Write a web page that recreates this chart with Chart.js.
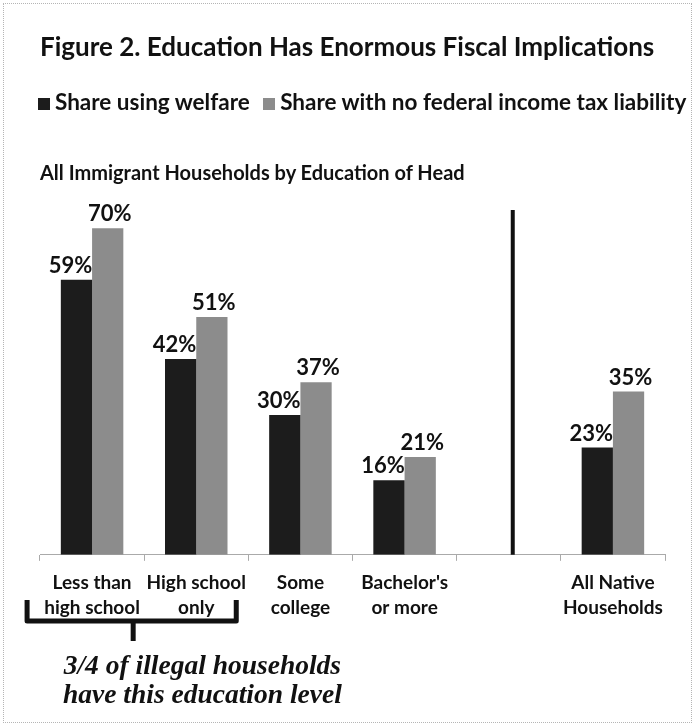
<!DOCTYPE html>
<html>
<head>
<meta charset="utf-8">
<script src="https://cdn.jsdelivr.net/npm/chart.js@4.4.1/dist/chart.umd.min.js"></script>
<style>
  html, body { margin: 0; padding: 0; background: #fff; }
  #wrap { position: relative; width: 697px; height: 727px; overflow: hidden; }
  #frame { position: absolute; left: 3px; top: 3px; width: 689px; height: 720px; border: 1px dotted #b5b5b5; box-sizing: border-box; }
  #chart { position: absolute; left: 0; top: 0; }
  .txt { position: absolute; font-family: Lato, "Open Sans", sans-serif; font-weight: bold; color: #111; white-space: nowrap; }
  #title { left: 40px; top: 30px; font-size: 26px; }
  #legend { left: 38px; top: 88px; font-size: 22.5px; }
  #legend .sw { display: inline-block; width: 12px; height: 12px; margin-right: 5px; vertical-align: 0px; }
  #sub { left: 40px; top: 160px; font-size: 20px; }
  #note { left: 63px; top: 650px; font-family: "Liberation Serif", serif; font-style: italic; font-size: 27.5px; line-height: 29px; text-align: center; }
</style>
</head>
<body>
<div id="wrap">
  <div id="frame"></div>
  <canvas id="chart" width="697" height="727"></canvas>
  <div class="txt" id="title">Figure 2. Education Has Enormous Fiscal Implications</div>
  <div class="txt" id="legend">
    <span class="sw" style="background:#1c1c1c"></span>Share using welfare
    <span class="sw" style="background:#8c8c8c;margin-left:8px"></span>Share with no federal income tax liability
  </div>
  <div class="txt" id="sub">All Immigrant Households by Education of Head</div>
  <div class="txt" id="note">3/4 of illegal households<br>have this education level</div>
</div>
<script>
// categories and values (percent of households)
const categories = [
    ["Less than", "high school"],
    ["High school", "only"],
    ["Some", "college"],
    ["Bachelor's", "or more"],
    "",
    ["All Native", "Households"]
];
const welfareShare = [59, 42, 30, 16, null, 23];
const noTaxShare = [70, 51, 37, 21, null, 35];

const colors = ['#1c1c1c', '#8c8c8c'];

// percentage labels above each bar
const valueLabels = {
    id: 'valueLabels',
    afterDatasetsDraw(chart) {
        const ctx = chart.ctx;
        ctx.save();
        ctx.font = 'bold 22px Lato, "Open Sans", sans-serif';
        ctx.fillStyle = '#111';
        ctx.textAlign = 'center';
        ctx.textBaseline = 'bottom';
        chart.data.datasets.forEach(function (ds, i) {
            const meta = chart.getDatasetMeta(i);
            meta.data.forEach(function (bar, j) {
                if (ds.data[j] == null) return;
                const dx = i === 0 ? -6 : 2;
                ctx.fillText(ds.data[j] + '%', bar.x + dx, bar.y - 3);
            });
        });
        ctx.restore();
    }
};

// divider between immigrant and native groups, plus the bracket under the first two groups
const extras = {
    id: 'extras',
    afterDraw(chart) {
        const ctx = chart.ctx;
        const x = chart.scales.x;
        const area = chart.chartArea;
        ctx.save();
        ctx.strokeStyle = '#111';

        const divX = x.getPixelForValue(4) + 4;
        ctx.lineWidth = 4;
        ctx.beginPath();
        ctx.moveTo(divX, 210);
        ctx.lineTo(divX, area.bottom);
        ctx.stroke();

        const left = x.getPixelForValue(0) - 65;
        const right = x.getPixelForValue(1) + 40;
        const mid = (x.getPixelForValue(0) + x.getPixelForValue(1)) / 2 - 11;
        ctx.lineWidth = 5;
        ctx.lineJoin = 'round';
        ctx.beginPath();
        ctx.moveTo(left, 600);
        ctx.lineTo(left, 621);
        ctx.lineTo(right, 621);
        ctx.lineTo(right, 600);
        ctx.stroke();
        ctx.beginPath();
        ctx.moveTo(mid, 621);
        ctx.lineTo(mid, 641);
        ctx.stroke();
        ctx.restore();
    }
};

var ctx = document.getElementById('chart');

var chartData = {
    labels: categories,
    datasets: [
        { label: 'Share using welfare', data: welfareShare, backgroundColor: colors[0] },
        { label: 'Share with no federal income tax liability', data: noTaxShare, backgroundColor: colors[1] }
    ]
};

var chartOptions = {
    responsive: false,
    animation: false,
    layout: { padding: { left: 40, right: 32, top: 205, bottom: 98 } },
    datasets: { bar: { categoryPercentage: 0.6, barPercentage: 1.0 } },
    plugins: {
        legend: { display: false },
        title: { display: false },
        tooltip: { enabled: false }
    },
    scales: {
        x: {
            grid: { display: true, drawOnChartArea: false, tickLength: 6, color: '#aaa' },
            border: { color: '#aaa' },
            ticks: {
                color: '#111',
                padding: 9,
                maxRotation: 0,
                autoSkip: false,
                font: { family: 'Lato, "Open Sans", sans-serif', weight: 'bold', size: 19, lineHeight: 1.32 }
            }
        },
        y: {
            display: false,
            min: 0,
            max: 75
        }
    }
};

var config = {
    type: 'bar',
    data: chartData,
    options: chartOptions,
    plugins: [valueLabels, extras]
};

var educationChart = new Chart(ctx, config);
</script>
</body>
</html>
